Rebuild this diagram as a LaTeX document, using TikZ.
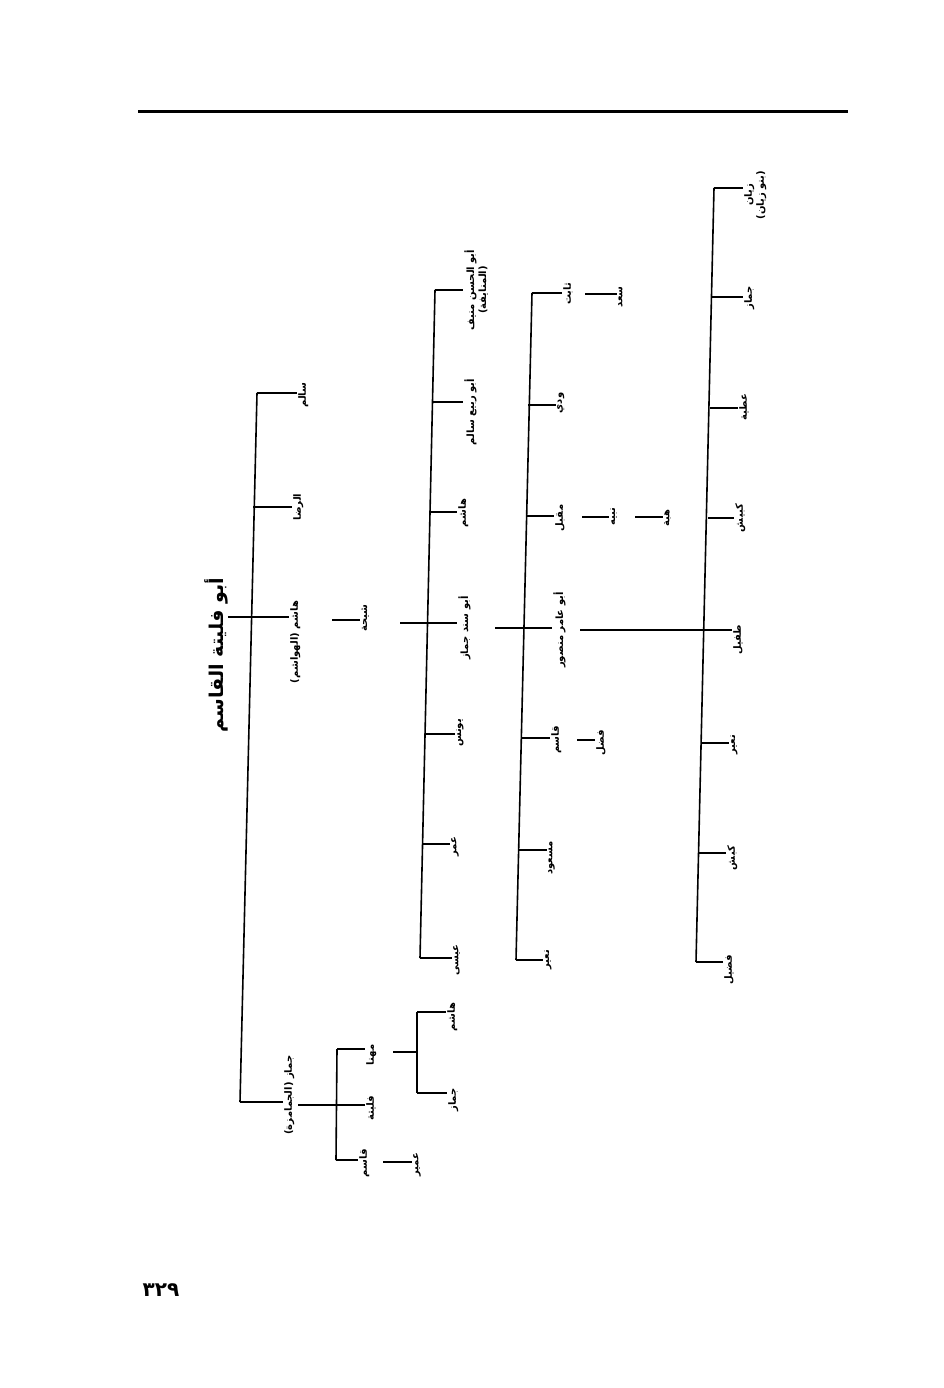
\documentclass[tikz,border=0pt]{standalone}
\usepackage{fontspec}
\usepackage{tikz}
\newfontfamily\arabicfont[Script=Arabic, BoldFont=DejaVu Sans Bold]{DejaVu Sans}
\TeXXeTstate=1
\newcommand\arb[1]{\beginR#1\endR}
\tikzset{
	branch/.style={line width=1.6pt},
	person/.style={rotate=90, anchor=north, inner sep=1pt, font=\arabicfont\bfseries\fontsize{10}{12}\selectfont},
	person2/.style={person, align=center},
	headline/.style={rotate=90, inner sep=0pt, font=\arabicfont\bfseries\fontsize{19}{22}\selectfont},
}

\begin{document}
\begin{tikzpicture}[x=1pt,y=-1pt]
			%%%%% START %%%%%
			\useasboundingbox (0,0) rectangle (944,1388);
			\fill[white] (0,0) rectangle (944,1388);
			
			\draw[line width=3pt] (138,112) -- (848,112);
			\node[font=\arabicfont\bfseries\fontsize{20}{22}\selectfont, inner sep=0pt] (pagenum) at (161,1290) {٣٢٩};
			
			\node[headline] (qasim) at (216,655) {\arb{أبو فليتة القاسم}};
			
			\node[person] (salim) at (297,395) {\arb{سالم}};
			\node[person] (rida) at (292,507) {\arb{الرضا}};
			\node[person] (hashim) at (289,642) {\arb{هاشم (الهواشم)}};
			\node[person] (jammaz) at (283,1095) {\arb{جماز (الجمامزة)}};
			\draw[branch] (257,393) -- (240,1102);
			\draw[branch] (257,393) -- (salim.north |- 0,393);
			\draw[branch] (253,507) -- (rida.north |- 0,507);
			\draw[branch] (qasim.south |- 0,617) -- (hashim.north |- 0,617);
			\draw[branch] (240,1102) -- (jammaz.north |- 0,1102);
			
			\node[person] (shiha) at (360,618) {\arb{شيحة}};
			\draw[branch] (332,620) -- (shiha.north |- 0,620);
			
			\node[person] (mhanna) at (365,1055) {\arb{مهنا}};
			\node[person] (fulayta) at (365,1108) {\arb{فليتة}};
			\node[person] (qasimb) at (358,1163) {\arb{قاسم}};
			\node[person] (umayr) at (412,1165) {\arb{عمير}};
			\draw[branch] (337,1049) -- (336,1160);
			\draw[branch] (298,1105) -- (fulayta.north |- 0,1105);
			\draw[branch] (337,1049) -- (mhanna.north |- 0,1049);
			\draw[branch] (336,1160) -- (qasimb.north |- 0,1160);
			\draw[branch] (383,1162) -- (umayr.north |- 0,1162);
			
			\node[person] (hashimb) at (446,1017) {\arb{هاشم}};
			\node[person] (jammazb) at (447,1100) {\arb{جماز}};
			\draw[branch] (393,1052) -- (417,1052);
			\draw[branch] (417,1012) -- (417,1093);
			\draw[branch] (417,1012) -- (hashimb.north |- 0,1012);
			\draw[branch] (417,1093) -- (jammazb.north |- 0,1093);
			
			\node[person2] (munif) at (463,290) {\arb{أبو الحسن منيف}\\\arb{(المنايفة)}};
			\node[person] (salimb) at (463,412) {\arb{أبو ربيع سالم}};
			\node[person] (hashimc) at (457,513) {\arb{هاشم}};
			\node[person] (abusanad) at (457,628) {\arb{أبو سند جماز}};
			\node[person] (yunus) at (455,733) {\arb{يونس}};
			\node[person] (umar) at (450,847) {\arb{عمر}};
			\node[person] (isa) at (452,960) {\arb{عيسى}};
			\draw[branch] (435,290) -- (420,958);
			\draw[branch] (400,623) -- (abusanad.north |- 0,623);
			\draw[branch] (435,290) -- (munif.north |- 0,290);
			\draw[branch] (433,402) -- (salimb.north |- 0,402);
			\draw[branch] (431,512) -- (hashimc.north |- 0,512);
			\draw[branch] (425,734) -- (yunus.north |- 0,734);
			\draw[branch] (423,844) -- (umar.north |- 0,844);
			\draw[branch] (420,958) -- (isa.north |- 0,958);
			
			\node[person] (thabit) at (562,294) {\arb{ثابت}};
			\node[person] (saad) at (617,297) {\arb{سعد}};
			\node[person] (wudi) at (556,403) {\arb{ودي}};
			\node[person] (muqbil) at (554,518) {\arb{مقبل}};
			\node[person] (nabih) at (609,517) {\arb{نبيه}};
			\node[person] (hiba) at (663,518) {\arb{هبة}};
			\node[person] (mansur) at (552,630) {\arb{أبو عامر منصور}};
			\node[person] (qasimc) at (550,740) {\arb{قاسم}};
			\node[person] (fadl) at (595,743) {\arb{فضل}};
			\node[person] (masud) at (547,858) {\arb{مسعود}};
			\node[person] (nuayrb) at (543,960) {\arb{نعير}};
			\draw[branch] (532,293) -- (516,960);
			\draw[branch] (495,628) -- (mansur.north |- 0,628);
			\draw[branch] (532,293) -- (thabit.north |- 0,293);
			\draw[branch] (585,294) -- (saad.north |- 0,294);
			\draw[branch] (528,405) -- (wudi.north |- 0,405);
			\draw[branch] (527,516) -- (muqbil.north |- 0,516);
			\draw[branch] (582,517) -- (nabih.north |- 0,517);
			\draw[branch] (635,517) -- (hiba.north |- 0,517);
			\draw[branch] (521,738) -- (qasimc.north |- 0,738);
			\draw[branch] (577,740) -- (fadl.north |- 0,740);
			\draw[branch] (519,850) -- (masud.north |- 0,850);
			\draw[branch] (516,960) -- (nuayrb.north |- 0,960);
			
			\node[person2] (zayyan) at (743,195) {\arb{زيان}\\\arb{(بنو زيان)}};
			\node[person] (jammazc) at (743,298) {\arb{جماز}};
			\node[person] (atiyya) at (738,407) {\arb{عطية}};
			\node[person] (kubaysh) at (734,518) {\arb{كبيش}};
			\node[person] (tufayl) at (732,640) {\arb{طفيل}};
			\node[person] (nuayr) at (729,745) {\arb{نعير}};
			\node[person] (kabsh) at (726,858) {\arb{كبش}};
			\node[person] (fudayl) at (723,970) {\arb{فضيل}};
			\draw[branch] (714,188) -- (696,962);
			\draw[branch] (580,630) -- (tufayl.north |- 0,630);
			\draw[branch] (714,188) -- (zayyan.north |- 0,188);
			\draw[branch] (712,297) -- (jammazc.north |- 0,297);
			\draw[branch] (710,408) -- (atiyya.north |- 0,408);
			\draw[branch] (708,518) -- (kubaysh.north |- 0,518);
			\draw[branch] (702,743) -- (nuayr.north |- 0,743);
			\draw[branch] (699,853) -- (kabsh.north |- 0,853);
			\draw[branch] (696,962) -- (fudayl.north |- 0,962);
			
			%%%%% END %%%%%
\end{tikzpicture}
\end{document}
